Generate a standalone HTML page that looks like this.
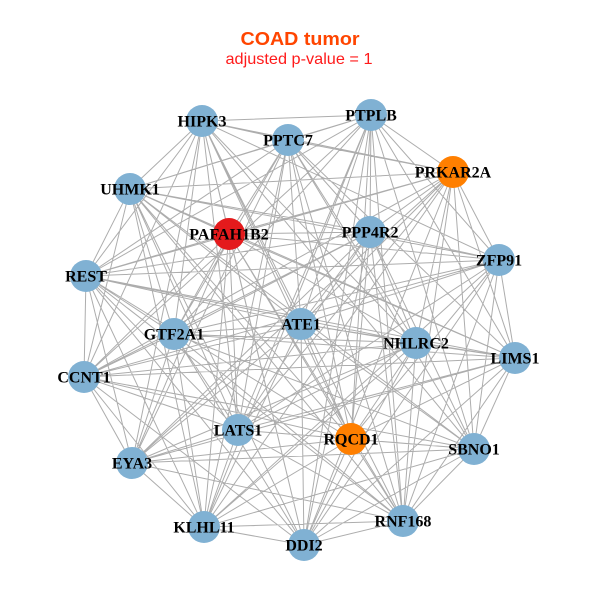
<!DOCTYPE html>
<html><head><meta charset="utf-8"><style>
html,body{margin:0;padding:0;background:#fff;width:600px;height:600px;overflow:hidden}
svg{display:block}
.n text{font-family:"Liberation Serif",serif;font-weight:bold;font-size:16px;fill:#000;text-anchor:middle}
</style></head><body>
<svg width="600" height="600" viewBox="0 0 600 600" xmlns="http://www.w3.org/2000/svg">
<rect width="600" height="600" fill="#fff"/>
<text x="300" y="45" text-anchor="middle" font-family="Liberation Sans, sans-serif" font-weight="bold" font-size="18" fill="#FF4500" textLength="119" lengthAdjust="spacingAndGlyphs">COAD tumor</text>
<text x="299" y="64" text-anchor="middle" font-family="Liberation Sans, sans-serif" font-size="16" fill="#FF1A1A" textLength="147" lengthAdjust="spacingAndGlyphs">adjusted p-value = 1</text>
<path fill="none" stroke="#ADADAD" stroke-width="1" d="
M202 121L371 115 M202 121L288 140 M202 121L130 189 M202 121L229 234 M202 121L499 260 M202 121L86 276 M202 121L301 324 M202 121L416 343 M202 121L84 377 M202 121L238 430 M202 121L474 449 M202 121L132 463 M202 121L304 545 M202 121L403 521
M371 115L453 172 M371 115L130 189 M371 115L370 232 M371 115L499 260 M371 115L174 334 M371 115L301 324 M371 115L515 358 M371 115L84 377 M371 115L351 439 M371 115L474 449 M371 115L204 527 M371 115L304 545
M288 140L453 172 M288 140L229 234 M288 140L370 232 M288 140L86 276 M288 140L174 334 M288 140L416 343 M288 140L515 358 M288 140L238 430 M288 140L351 439 M288 140L132 463 M288 140L204 527 M288 140L403 521
M453 172L130 189 M453 172L229 234 M453 172L499 260 M453 172L86 276 M453 172L301 324 M453 172L416 343 M453 172L84 377 M453 172L238 430 M453 172L474 449 M453 172L132 463 M453 172L304 545 M453 172L403 521
M130 189L370 232 M130 189L499 260 M130 189L86 276 M130 189L174 334 M130 189L301 324 M130 189L515 358 M130 189L84 377 M130 189L351 439 M130 189L474 449 M130 189L204 527 M130 189L304 545
M229 234L370 232 M229 234L86 276 M229 234L174 334 M229 234L416 343 M229 234L515 358 M229 234L238 430 M229 234L351 439 M229 234L132 463 M229 234L204 527 M229 234L403 521
M370 232L499 260 M370 232L86 276 M370 232L301 324 M370 232L416 343 M370 232L84 377 M370 232L238 430 M370 232L474 449 M370 232L132 463 M370 232L304 545 M370 232L403 521
M499 260L174 334 M499 260L301 324 M499 260L515 358 M499 260L84 377 M499 260L351 439 M499 260L474 449 M499 260L204 527 M499 260L304 545
M86 276L174 334 M86 276L416 343 M86 276L515 358 M86 276L84 377 M86 276L238 430 M86 276L351 439 M86 276L132 463 M86 276L204 527 M86 276L403 521
M174 334L301 324 M174 334L416 343 M174 334L84 377 M174 334L238 430 M174 334L474 449 M174 334L132 463 M174 334L304 545 M174 334L403 521
M301 324L515 358 M301 324L84 377 M301 324L351 439 M301 324L474 449 M301 324L204 527 M301 324L304 545
M416 343L515 358 M416 343L238 430 M416 343L351 439 M416 343L132 463 M416 343L204 527 M416 343L403 521
M515 358L84 377 M515 358L238 430 M515 358L474 449 M515 358L132 463 M515 358L304 545 M515 358L403 521
M84 377L351 439 M84 377L474 449 M84 377L132 463 M84 377L204 527 M84 377L304 545
M238 430L351 439 M238 430L132 463 M238 430L204 527 M238 430L403 521
M351 439L474 449 M351 439L132 463 M351 439L304 545 M351 439L403 521
M474 449L204 527 M474 449L304 545 M474 449L403 521
M132 463L204 527 M132 463L403 521
M204 527L304 545 M204 527L403 521
M304 545L403 521
M202 121L453 172 M202 121L174 334 M202 121L351 439
M371 115L288 140 M371 115L86 276 M371 115L238 430 M371 115L403 521
M288 140L130 189 M288 140L301 324 M288 140L474 449
M453 172L370 232 M453 172L515 358 M453 172L204 527
M130 189L229 234 M130 189L238 430 M130 189L403 521
M229 234L499 260 M229 234L84 377 M229 234L304 545
M370 232L174 334 M370 232L351 439
M499 260L86 276 M499 260L238 430 M499 260L403 521
M86 276L301 324 M86 276L304 545
M174 334L515 358 M174 334L204 527
M301 324L416 343 M301 324L132 463
M416 343L84 377 M416 343L304 545
M515 358L351 439
M84 377L238 430
M238 430L474 449
M351 439L204 527
M474 449L132 463"/>
<g class="n">
<circle cx="202" cy="121" r="16" fill="#80B1D3"/>
<circle cx="371" cy="115" r="16" fill="#80B1D3"/>
<circle cx="288" cy="140" r="16" fill="#80B1D3"/>
<circle cx="453" cy="172" r="16" fill="#FF7F00"/>
<circle cx="130" cy="189" r="16" fill="#80B1D3"/>
<circle cx="229" cy="234" r="16" fill="#E41A1C"/>
<circle cx="370" cy="232" r="16" fill="#80B1D3"/>
<circle cx="499" cy="260" r="16" fill="#80B1D3"/>
<circle cx="86" cy="276" r="16" fill="#80B1D3"/>
<circle cx="174" cy="334" r="16" fill="#80B1D3"/>
<circle cx="301" cy="324" r="16" fill="#80B1D3"/>
<circle cx="416" cy="343" r="16" fill="#80B1D3"/>
<circle cx="515" cy="358" r="16" fill="#80B1D3"/>
<circle cx="84" cy="377" r="16" fill="#80B1D3"/>
<circle cx="238" cy="430" r="16" fill="#80B1D3"/>
<circle cx="351" cy="439" r="16" fill="#FF7F00"/>
<circle cx="474" cy="449" r="16" fill="#80B1D3"/>
<circle cx="132" cy="463" r="16" fill="#80B1D3"/>
<circle cx="204" cy="527" r="16" fill="#80B1D3"/>
<circle cx="304" cy="545" r="16" fill="#80B1D3"/>
<circle cx="403" cy="521" r="16" fill="#80B1D3"/>
<text x="202" y="126.5">HIPK3</text>
<text x="371" y="120.5">PTPLB</text>
<text x="288" y="145.5">PPTC7</text>
<text x="453" y="177.5">PRKAR2A</text>
<text x="130" y="194.5">UHMK1</text>
<text x="229" y="239.5">PAFAH1B2</text>
<text x="370" y="237.5">PPP4R2</text>
<text x="499" y="265.5">ZFP91</text>
<text x="86" y="281.5">REST</text>
<text x="174" y="339.5">GTF2A1</text>
<text x="301" y="329.5">ATE1</text>
<text x="416" y="348.5">NHLRC2</text>
<text x="515" y="363.5">LIMS1</text>
<text x="84" y="382.5">CCNT1</text>
<text x="238" y="435.5">LATS1</text>
<text x="351" y="444.5">RQCD1</text>
<text x="474" y="454.5">SBNO1</text>
<text x="132" y="468.5">EYA3</text>
<text x="204" y="532.5">KLHL11</text>
<text x="304" y="550.5">DDI2</text>
<text x="403" y="526.5">RNF168</text>
</g>
</svg>
</body></html>
